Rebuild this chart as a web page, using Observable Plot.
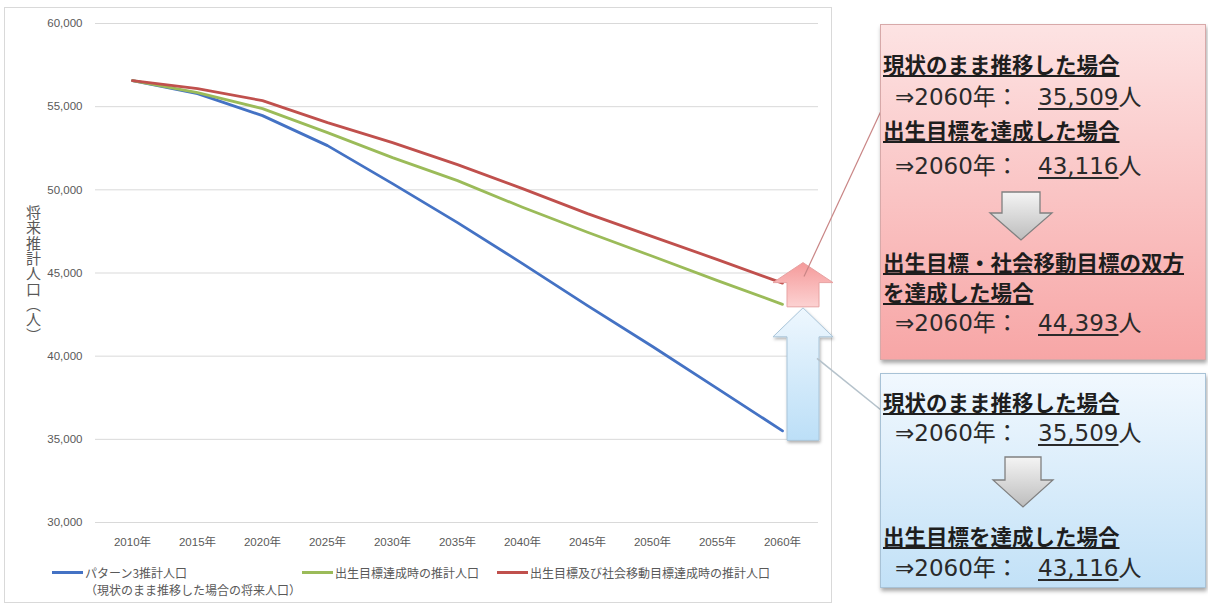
<!DOCTYPE html>
<html lang="ja">
<head>
<meta charset="utf-8">
<script src="https://cdn.jsdelivr.net/npm/d3@7"></script>
<script src="https://cdn.jsdelivr.net/npm/@observablehq/plot@0.6"></script>
<style>
  body { margin: 0; background: #fff; }
  #page { position: relative; width: 1208px; height: 607px; overflow: hidden;
          font-family: "Noto Sans CJK JP", sans-serif; color: #222; }
  #frame { position: absolute; left: 4px; top: 7px; width: 828px; height: 596px;
           border: 1px solid #d9d9d9; box-sizing: border-box; }
  #plot { position: absolute; left: 0; top: 0; }
  #plot svg { background: transparent; }
  #ytitle { position: absolute; left: 25px; top: 205px; writing-mode: vertical-rl;
            font-size: 15px; line-height: 16px; color: #595959; letter-spacing: 0.3px; }
  .legend { position: absolute; font-size: 12px; line-height: 17px; color: #595959; white-space: nowrap; }
  .legend i { position: absolute; left: -33px; top: 7px; width: 31px; height: 3px; }
  .box { position: absolute; box-sizing: border-box; box-shadow: 1px 3px 4px rgba(0,0,0,0.35); }
  #redbox { left: 880px; top: 24px; width: 326px; height: 336px;
            background: linear-gradient(#fde3e3, #f7a6a6); border: 1px solid #d7a9a9; }
  #bluebox { left: 880px; top: 373px; width: 326px; height: 215px;
             background: linear-gradient(#f1f8fe, #c2e1f7); border: 1px solid #a8c2d6; }
  .hd { position: absolute; left: 883px; font-size: 21.5px; line-height: 26px; font-weight: bold;
        white-space: nowrap; color: #1e1e1e; text-decoration: underline; text-decoration-thickness: 2px;
        text-underline-offset: 2px; }
  .val { position: absolute; left: 895px; font-family: "DejaVu Sans", "Noto Sans CJK JP", sans-serif;
         font-size: 23px; line-height: 26px; white-space: nowrap; color: #2a2a2a; }
  .val .num { position: absolute; left: 143px; top: 0; }
  .val .num u { text-decoration-thickness: 1.5px; text-underline-offset: 3px; }
  svg.overlay { position: absolute; left: 0; top: 0; pointer-events: none; }
</style>
</head>
<body>
<div id="page">
  <div id="frame"></div>
  <div id="plot"></div>
  <div id="ytitle">将来推計人口（人）</div>
</div>
<script>
// Projected population by year
const years = [2010, 2015, 2020, 2025, 2030, 2035, 2040, 2045, 2050, 2055, 2060];
const pattern3 = [56564, 55783, 54461, 52658, 50374, 48030, 45566, 43042, 40578, 38053, 35509];
const birthGoal = [56564, 55843, 54881, 53439, 51937, 50554, 48952, 47449, 46007, 44544, 43116];
const bothGoals = [56564, 56083, 55362, 54040, 52838, 51516, 50073, 48571, 47189, 45806, 44393];
const yTicks = [30000, 35000, 40000, 45000, 50000, 55000, 60000];

const seriesNames = ["パターン3推計人口", "出生目標達成時の推計人口", "出生目標及び社会移動目標達成時の推計人口"];
const seriesNote = "（現状のまま推移した場合の将来人口）";
const seriesColors = ["#4472c4", "#9bbb59", "#c0504d"];
const seriesValues = [pattern3, birthGoal, bothGoals];

const rows = seriesValues.flatMap((vals, i) =>
  years.map((year, j) => ({year, value: vals[j], series: seriesNames[i]})));

const fmt = d3.format(",");
const tickFont = "'Liberation Sans', 'Noto Sans CJK JP', sans-serif";

const chart = Plot.plot({
  width: 833,
  height: 607,
  marginLeft: 95,
  marginRight: 15,
  marginTop: 23,
  marginBottom: 85,
  style: {background: "transparent", fontFamily: tickFont, fontSize: "11.5px", color: "#595959"},
  x: {type: "point", domain: years, padding: 0.5, label: null},
  y: {domain: [30000, 60000], label: null},
  marks: [
    Plot.ruleY(yTicks, {stroke: "#d9d9d9", strokeWidth: 1}),
    Plot.axisY({ticks: yTicks, tickSize: 0, tickPadding: 13, tickFormat: fmt, fill: "#595959", label: null}),
    Plot.axisX({tickSize: 0, tickPadding: 15, tickFormat: d => `${d}年`, fill: "#595959", label: null}),
    ...seriesNames.map((name, i) =>
      Plot.line(rows.filter(r => r.series === name), {
        x: "year", y: "value", stroke: seriesColors[i], strokeWidth: 2.8,
        strokeLinejoin: "round", strokeLinecap: "round"
      }))
  ]
});
document.getElementById("plot").append(chart);

const page = document.getElementById("page");
const xs = chart.scale("x");
const ys = chart.scale("y");

// Legend below the axis
const legendX = [85, 335, 530];
seriesNames.forEach((name, i) => {
  const el = document.createElement("div");
  el.className = "legend";
  el.style.left = legendX[i] + "px";
  el.style.top = "564px";
  el.innerHTML = `<i style="background:${seriesColors[i]}"></i>${name}` + (i === 0 ? `<br>${seriesNote}` : "");
  page.append(el);
});

// Block arrows and callout lines next to the 2060 values
const under = d3.select(page).append("svg").attr("class", "overlay").attr("width", 1208).attr("height", 607);
const defs = under.append("defs");
function grad(id, c0, c1) {
  const g = defs.append("linearGradient").attr("id", id).attr("x1", 0).attr("y1", 0).attr("x2", 0).attr("y2", 1);
  g.append("stop").attr("offset", 0).attr("stop-color", c0);
  g.append("stop").attr("offset", 1).attr("stop-color", c1);
}
grad("gRed", "#f59a9a", "#fcd2d2");
grad("gBlue", "#eef7fe", "#bcdff7");
defs.append("filter").attr("id", "sh").html('<feDropShadow dx="1" dy="2" stdDeviation="1.5" flood-opacity="0.3"/>');

function upArrow(cx, apex, headBase, bottom, headHalf, shaftHalf) {
  return `M${cx},${apex} L${cx + headHalf},${headBase} L${cx + shaftHalf},${headBase} L${cx + shaftHalf},${bottom}` +
         ` L${cx - shaftHalf},${bottom} L${cx - shaftHalf},${headBase} L${cx - headHalf},${headBase} Z`;
}
const last = years[years.length - 1];
const cx = xs.apply(last) + 21;
const yBlue = ys.apply(pattern3.at(-1));
const yGreen = ys.apply(birthGoal.at(-1));
const yRed = ys.apply(bothGoals.at(-1));

under.append("path")
  .attr("d", upArrow(cx, yGreen + 4, yGreen + 33, yBlue + 10, 30, 16))
  .attr("fill", "url(#gBlue)").attr("stroke", "#a9c4d8").attr("stroke-width", 1).attr("filter", "url(#sh)");
under.append("path")
  .attr("d", upArrow(cx, yRed - 20, yRed, yGreen + 3, 30, 16))
  .attr("fill", "url(#gRed)").attr("stroke", "#e7a3a3").attr("stroke-width", 1);

// callout connectors
under.append("line").attr("x1", cx + 1).attr("y1", yRed - 6).attr("x2", 881).attr("y2", 111)
  .attr("stroke", "#c98585").attr("stroke-width", 1.2);
under.append("line").attr("x1", cx + 14).attr("y1", yBlue - 72).attr("x2", 881).attr("y2", 410)
  .attr("stroke", "#b5c2cb").attr("stroke-width", 1.6);

// Summary boxes
const redBox = document.createElement("div"); redBox.className = "box"; redBox.id = "redbox"; page.append(redBox);
const blueBox = document.createElement("div"); blueBox.className = "box"; blueBox.id = "bluebox"; page.append(blueBox);

function heading(text, top) {
  const el = document.createElement("div");
  el.className = "hd"; el.style.top = top + "px"; el.textContent = text;
  page.append(el);
}
function valueLine(value, top) {
  const el = document.createElement("div");
  el.className = "val"; el.style.top = top + "px";
  el.innerHTML = `⇒${last}年：<span class="num"><u>${fmt(value)}</u>人</span>`;
  page.append(el);
}
heading("現状のまま推移した場合", 51);
valueLine(pattern3.at(-1), 84);
heading("出生目標を達成した場合", 117);
valueLine(birthGoal.at(-1), 153);
heading("出生目標・社会移動目標の双方", 249);
heading("を達成した場合", 279);
valueLine(bothGoals.at(-1), 310);

heading("現状のまま推移した場合", 389);
valueLine(pattern3.at(-1), 420);
heading("出生目標を達成した場合", 523);
valueLine(birthGoal.at(-1), 555);

// Gray down arrows inside the boxes
const over = d3.select(page).append("svg").attr("class", "overlay").attr("width", 1208).attr("height", 607);
const d2 = over.append("defs");
const gg = d2.append("linearGradient").attr("id", "gGray").attr("x1", 0).attr("y1", 0).attr("x2", 0).attr("y2", 1);
gg.append("stop").attr("offset", 0).attr("stop-color", "#f4f4f4");
gg.append("stop").attr("offset", 1).attr("stop-color", "#bdbdbd");
function downArrow(cx, top, headBase, apex, headHalf, shaftHalf) {
  return `M${cx - shaftHalf},${top} L${cx + shaftHalf},${top} L${cx + shaftHalf},${headBase} L${cx + headHalf},${headBase}` +
         ` L${cx},${apex} L${cx - headHalf},${headBase} L${cx - shaftHalf},${headBase} Z`;
}
over.append("path").attr("d", downArrow(1021, 192, 213, 240, 31, 19))
  .attr("fill", "url(#gGray)").attr("stroke", "#808080").attr("stroke-width", 1.3);
over.append("path").attr("d", downArrow(1023, 457, 480, 507, 30, 18))
  .attr("fill", "url(#gGray)").attr("stroke", "#808080").attr("stroke-width", 1.3);
</script>
</body>
</html>
